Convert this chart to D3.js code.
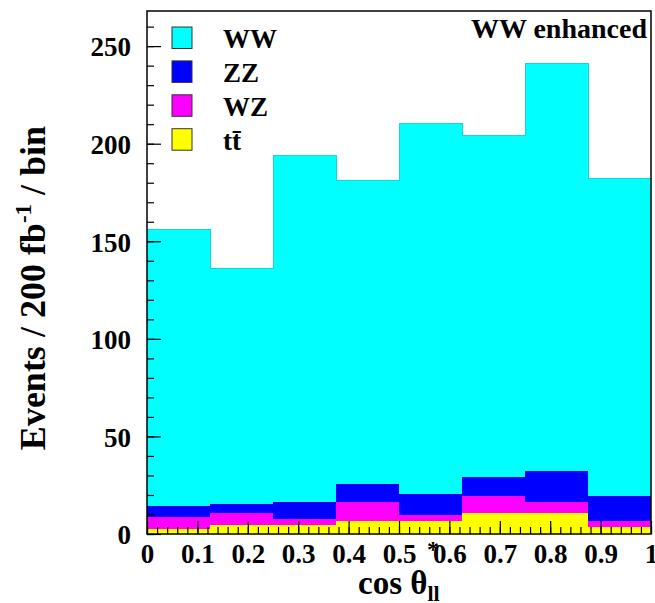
<!DOCTYPE html>
<html>
<head>
<meta charset="utf-8">
<script src="https://cdn.jsdelivr.net/npm/d3@7"></script>
<style>
  body { margin: 0; background: #fff; }
  svg text { font-family: "Liberation Serif", "Times New Roman", serif; font-weight: bold; fill: #000; }
</style>
</head>
<body>
<div id="chart"></div>
<script>
// bin edges of cos theta*_ll (8 bins of 0.125)
var binEdges = [0, 0.125, 0.25, 0.375, 0.5, 0.625, 0.75, 0.875, 1];

// per-bin contributions, stacked bottom to top: tt, WZ, ZZ, WW
var ttbar = [2.6, 4.8, 4.4, 6.7, 6.7, 10.6, 10.9, 3.6];
var wz    = [6.1, 5.8, 3.1, 9.8, 3.0, 9.0, 5.3, 3.1];
var zz    = [5.8, 4.8, 9.0, 9.1, 10.8, 9.7, 16.1, 12.9];
var ww    = [141.5, 120.6, 177.4, 155.4, 189.8, 174.8, 208.7, 162.4];

var xTicks = [0, 0.1, 0.2, 0.3, 0.4, 0.5, 0.6, 0.7, 0.8, 0.9, 1];
var yTicks = [0, 50, 100, 150, 200, 250];

var legendLabels = ["WW", "ZZ", "WZ", "tt\u0304"];
var legendColors = ["#00ffff", "#0000ff", "#ff00ff", "#ffff00"];

var W = 655, H = 603;
var margin = {top: 11, right: 4, bottom: 69, left: 147};
var width = W - margin.left - margin.right,
    height = H - margin.top - margin.bottom;

var svg = d3.select("#chart").append("svg")
  .attr("width", W)
  .attr("height", H);

var main = svg.append("g")
  .attr("transform", "translate(" + margin.left + "," + margin.top + ")");

var x = d3.scaleLinear().domain([0, 1]).range([0, width]);
var y = d3.scaleLinear().domain([0, 268]).range([height, 0]);

// build table for the stack
var table = [];
for (var i = 0; i < ww.length; i++) {
  table.push({lo: binEdges[i], hi: binEdges[i + 1], tt: ttbar[i], WZ: wz[i], ZZ: zz[i], WW: ww[i]});
}
var keys = ["tt", "WZ", "ZZ", "WW"];
var colors = {tt: "#ffff00", WZ: "#ff00ff", ZZ: "#0000ff", WW: "#00ffff"};
var stacked = d3.stack().keys(keys)(table);

var bars = main.append("g").attr("shape-rendering", "crispEdges");
stacked.forEach(function(layer) {
  bars.selectAll(null)
    .data(layer)
    .enter().append("rect")
      .attr("x", function(d) { return x(d.data.lo); })
      .attr("width", function(d) { return x(d.data.hi) - x(d.data.lo); })
      .attr("y", function(d) { return y(d[1]); })
      .attr("height", function(d) { return y(d[0]) - y(d[1]); })
      .attr("fill", colors[layer.key]);
});

// outline of the WW (total) histogram
var wwLayer = stacked[stacked.length - 1];
var step = [];
wwLayer.forEach(function(d) {
  step.push([x(d.data.lo), y(d[1])]);
  step.push([x(d.data.hi), y(d[1])]);
});
main.append("path")
  .attr("d", d3.line()(step))
  .attr("fill", "none")
  .attr("stroke", "#10d8d8")
  .attr("stroke-width", 1)
  .attr("shape-rendering", "crispEdges");

// x axis: major + minor ticks pointing inward
var xMinor = d3.range(0, 1.0001, 0.02);
main.append("g")
  .attr("transform", "translate(0," + height + ")")
  .call(d3.axisBottom(x).tickValues(xMinor).tickSize(-7).tickFormat(""))
  .call(function(g) { g.select(".domain").remove(); });

var xAxis = main.append("g")
  .attr("transform", "translate(0," + height + ")")
  .call(d3.axisBottom(x).tickValues(xTicks).tickSize(-13).tickPadding(10)
    .tickFormat(function(d) { return d3.format("")(d); }));
xAxis.select(".domain").remove();
xAxis.selectAll("text").attr("font-size", 27).attr("font-family", null);

// y axis
var yMinor = d3.range(0, 261, 10);
main.append("g")
  .call(d3.axisLeft(y).tickValues(yMinor).tickSize(-7).tickFormat(""))
  .call(function(g) { g.select(".domain").remove(); });

var yAxis = main.append("g")
  .call(d3.axisLeft(y).tickValues(yTicks).tickSize(-14).tickPadding(16));
yAxis.select(".domain").remove();
yAxis.selectAll("text").attr("font-size", 27).attr("font-family", null).attr("dy", "0.36em");

main.selectAll(".tick line").attr("stroke", "#000").attr("stroke-width", 1.2);

// frame
main.append("rect")
  .attr("x", 0).attr("y", 0)
  .attr("width", width).attr("height", height)
  .attr("fill", "none")
  .attr("stroke", "#000")
  .attr("stroke-width", 1.5);

// legend
var legend = main.append("g").attr("transform", "translate(25,16)");
var rows = legend.selectAll("g")
  .data(legendLabels)
  .enter().append("g")
    .attr("transform", function(d, i) { return "translate(0," + i * 33.9 + ")"; });
rows.append("rect")
  .attr("width", 20).attr("height", 21.5)
  .attr("fill", function(d, i) { return legendColors[i]; })
  .attr("stroke", "#333").attr("stroke-width", 1);
rows.append("text")
  .attr("x", 51).attr("y", 21)
  .attr("font-size", 27)
  .text(function(d) { return d; });

// header label
main.append("text")
  .attr("x", width - 4).attr("y", 27)
  .attr("text-anchor", "end")
  .attr("font-size", 28)
  .text("WW enhanced");

// y-axis title
var yt = svg.append("text")
  .attr("text-anchor", "middle")
  .attr("transform", "translate(45,288)rotate(-90)")
  .attr("font-size", 36);
yt.append("tspan").text("Events / 200 fb");
yt.append("tspan").attr("font-size", 23).attr("dy", -14).text("-1");
yt.append("tspan").attr("dy", 14).text(" / bin");

// x-axis title
var xt = svg.append("text")
  .attr("x", 358).attr("y", 594)
  .attr("font-size", 33);
xt.append("tspan").text("cos \u03b8");
xt.append("tspan").attr("font-size", 22).attr("dy", 7).text("ll");
svg.append("text")
  .attr("x", 433).attr("y", 557)
  .attr("text-anchor", "middle")
  .attr("font-size", 24)
  .text("*");
</script>
</body>
</html>
